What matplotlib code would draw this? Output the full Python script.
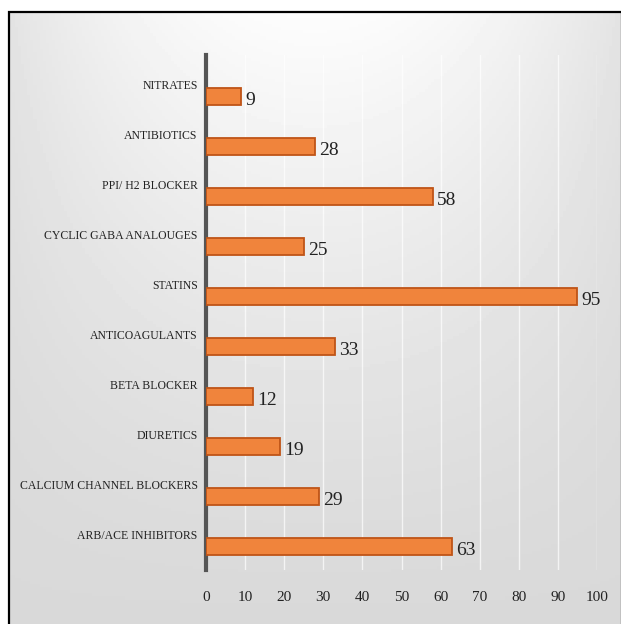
import numpy as np
import matplotlib
matplotlib.use("Agg")
import matplotlib.pyplot as plt
import matplotlib.transforms as mtransforms
from matplotlib.patches import Rectangle

# data, bottom to top as drawn
categories = [
    "ARB/ACE INHIBITORS",
    "CALCIUM CHANNEL BLOCKERS",
    "DIURETICS",
    "BETA BLOCKER",
    "ANTICOAGULANTS",
    "STATINS",
    "CYCLIC GABA ANALOUGES",
    "PPI/ H2 BLOCKER",
    "ANTIBIOTICS",
    "NITRATES",
]
counts = [63, 29, 19, 12, 33, 95, 25, 58, 28, 9]
x_ticks = list(range(0, 101, 10))

plt.rcParams["font.family"] = ["Liberation Serif", "DejaVu Serif"]

fig = plt.figure(figsize=(6.21, 6.24), dpi=100)
fig.patch.set_facecolor("white")

# gray gradient background inside the frame
bg = fig.add_axes([9 / 621, 0, 612 / 621, 612 / 624], zorder=0)
yy, xx = np.mgrid[0:1:200j, -1:1:200j]
shade = 0.85 + 0.14 * (yy ** 1.3) * (1 - 0.7 * np.abs(xx) ** 2)
bg.imshow(shade, cmap="gray", vmin=0, vmax=1, aspect="auto",
          extent=[0, 1, 0, 1], origin="lower")
bg.set_axis_off()
fig.patches.append(Rectangle((9 / 621, -0.01), 613 / 621, 612 / 624 + 0.01,
                             transform=fig.transFigure, fill=False,
                             edgecolor="black", linewidth=1.6, zorder=5))

ax = fig.add_axes([206 / 621, 54 / 624, 391 / 621, 515 / 624], zorder=2)
ax.patch.set_alpha(0)

y = np.arange(len(categories))
ax.barh(y, counts, height=0.34, color="#F0843C",
        edgecolor="#BF5417", linewidth=1.3, zorder=3)

for yi, v in zip(y, counts):
    ax.text(v + 1.0, yi - 0.08, str(v), va="center", ha="left",
            fontsize=14, color="#222222", zorder=4)

ax.set_xlim(0, 100)
ax.set_ylim(-0.48, 9.84)
ax.set_xticks(x_ticks)
ax.set_xticklabels([str(t) for t in x_ticks], fontsize=11, color="#222222")
ax.set_yticks(y)
ax.set_yticklabels(categories, fontsize=8.5, color="#222222")
ax.tick_params(axis="both", length=0)
ax.tick_params(axis="x", pad=15)
ax.tick_params(axis="y", pad=6)

# category labels sit a bit above their bars
offset = mtransforms.ScaledTranslation(0, 12 / 100, fig.dpi_scale_trans)
for lab in ax.get_yticklabels():
    lab.set_transform(lab.get_transform() + offset)

ax.grid(axis="x", color="white", linewidth=1.0, alpha=0.7, zorder=1)
for side in ["top", "right", "bottom"]:
    ax.spines[side].set_visible(False)
ax.spines["left"].set_color("#555555")
ax.spines["left"].set_linewidth(3)

fig.savefig("out.png", dpi=100)
